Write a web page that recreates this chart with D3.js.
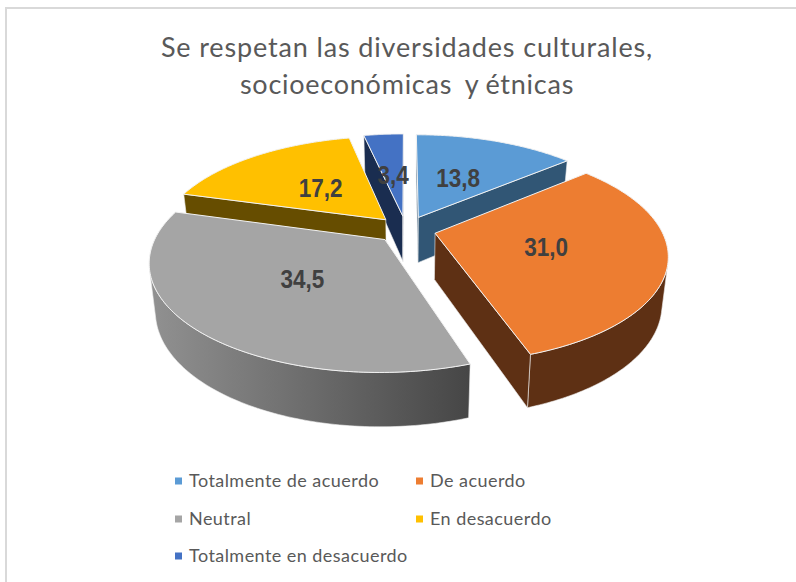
<!DOCTYPE html>
<html><head><meta charset="utf-8">
<script src="https://cdn.jsdelivr.net/npm/d3@7"></script>
<style>html,body{margin:0;padding:0;background:#fff}svg{display:block}</style>
</head><body><svg id="c" width="796" height="582"></svg>
<script>
const titleLines = ["Se respetan las diversidades culturales,", "socioeconómicas  y étnicas"];
const categories = ["Totalmente de acuerdo", "De acuerdo", "Neutral", "En desacuerdo", "Totalmente en desacuerdo"];
const values = [13.8, 31.0, 34.5, 17.2, 3.4];
const valueLabels = ["13,8", "31,0", "34,5", "17,2", "3,4"];
const topColors = ["#5B9BD5", "#ED7D31", "#A5A5A5", "#FFC000", "#4472C4"];
const wallColors = ["#315675", "#5E3014", "url(#grayWall)", "#664D00", "#1A2D50"];

const svg = d3.select("#c");
const cx = 406, cy = 229.5, R = 226, E = 30, persp = 0.000854, squash = 0.455, wallH = 46, bottomShrink = 0.976;
const labelRatio = [0.475, 0.49, 0.475, 0.465, 0.46];
const paintOrder = [4, 0, 3, 1, 2];

const defs = svg.append("defs");
const g = defs.append("linearGradient").attr("id", "grayWall").attr("gradientUnits", "userSpaceOnUse")
  .attr("x1", 155).attr("x2", 470).attr("y1", 0).attr("y2", 0);
g.append("stop").attr("offset", 0).attr("stop-color", "#909090");
g.append("stop").attr("offset", 1).attr("stop-color", "#464646");

const arcs = d3.pie().sort(null).value(d => d)(values);

function upper(x, d) { const s = 1 / (1 + persp * d); return [cx + x * s, cy - squash * d * s]; }
function lower(x, d) { const s = 1 / (1 + persp * d); return [cx + x * s * bottomShrink, cy - squash * d * s + wallH * Math.pow(s, 0.7)]; }
function model(arc, a, r) {
  const mid = (arc.startAngle + arc.endAngle) / 2;
  return [E * Math.sin(mid) + r * Math.sin(a), E * Math.cos(mid) + r * Math.cos(a)];
}
const line = d3.line();
function poly(pts) { return line(pts) + "Z"; }

function drawSlice(i) {
  const arc = arcs[i];
  const a0 = arc.startAngle, a1 = arc.endAngle;
  const angles = d3.range(0, 121).map(k => a0 + (a1 - a0) * k / 120);
  const gSlice = svg.append("g");
  const wall = p => gSlice.append("path").attr("d", poly(p)).attr("fill", wallColors[i])
    .attr("stroke", "#eeeeee").attr("stroke-width", 0.6).attr("stroke-linejoin", "round");

  // outer wall: only the run of segments that faces the viewer
  const faces = k => {
    if (k < 0 || k >= angles.length - 1) return false;
    const m0 = model(arc, angles[k], R), m1 = model(arc, angles[k + 1], R);
    return d3.polygonArea([upper(...m0), upper(...m1), lower(...m1), lower(...m0)]) > 0;
  };
  const visible = angles.filter((a, k) => faces(k) || faces(k - 1));
  if (visible.length > 1) {
    const pts = visible.map(a => model(arc, a, R));
    wall(pts.map(p => upper(...p)).concat(pts.slice().reverse().map(p => lower(...p))));
  }

  // radial walls, kept when they face the viewer
  [[a0, -1], [a1, 1]].forEach(([a, sign]) => {
    const ap = model(arc, a, 0), ou = model(arc, a, R);
    const q = [upper(...ap), upper(...ou), lower(...ou), lower(...ap)];
    if (-d3.polygonArea(q) * sign > 1) wall(q);
  });

  // top face
  const ring = angles.map(a => upper(...model(arc, a, R)));
  gSlice.append("path").attr("d", poly([upper(...model(arc, a0, 0))].concat(ring)))
    .attr("fill", topColors[i]).attr("stroke", "#f2f2f2").attr("stroke-width", 1).attr("stroke-linejoin", "round");
}
paintOrder.forEach(drawSlice);

// value labels
svg.append("g").selectAll("text").data(arcs).join("text")
  .attr("transform", (d, i) => {
    const mid = (d.startAngle + d.endAngle) / 2;
    const p = upper(...model(d, mid, R * labelRatio[i]));
    return `translate(${p[0]},${p[1]}) scale(0.9,1)`;
  })
  .attr("text-anchor", "middle").attr("dy", "0.36em")
  .attr("font-family", "Liberation Sans").attr("font-weight", 700).attr("font-size", 25)
  .attr("fill", "#404040").text((d, i) => valueLabels[i]);

// title
svg.append("g").selectAll("text").data(titleLines).join("text")
  .attr("x", 407).attr("y", (d, i) => 57 + i * 37)
  .attr("text-anchor", "middle").attr("font-family", "Lato").attr("font-size", 27)
  .attr("fill", "#595959").attr("letter-spacing", (d, i) => i ? 0.75 : 0.85).attr("word-spacing", (d, i) => i ? -1 : 0).style("white-space", "pre").text(d => d);

// legend
const colX = [175, 416], rowY = [481, 519, 556];
const leg = svg.append("g").selectAll("g").data(categories).join("g")
  .attr("transform", (d, i) => `translate(${colX[i % 2]},${rowY[Math.floor(i / 2)]})`);
leg.append("rect").attr("x", 0).attr("y", -3.5).attr("width", 7).attr("height", 7).attr("fill", (d, i) => topColors[i]);
leg.append("text").attr("x", 14).attr("dy", "0.36em").attr("font-family", "Lato").attr("font-size", 18)
  .attr("fill", "#595959").attr("letter-spacing", 0.45).text(d => d);

// frame
svg.append("path").attr("d", "M6,582V8H796").attr("fill", "none").attr("stroke", "#d9d9d9").attr("stroke-width", 2);
</script></body></html>
